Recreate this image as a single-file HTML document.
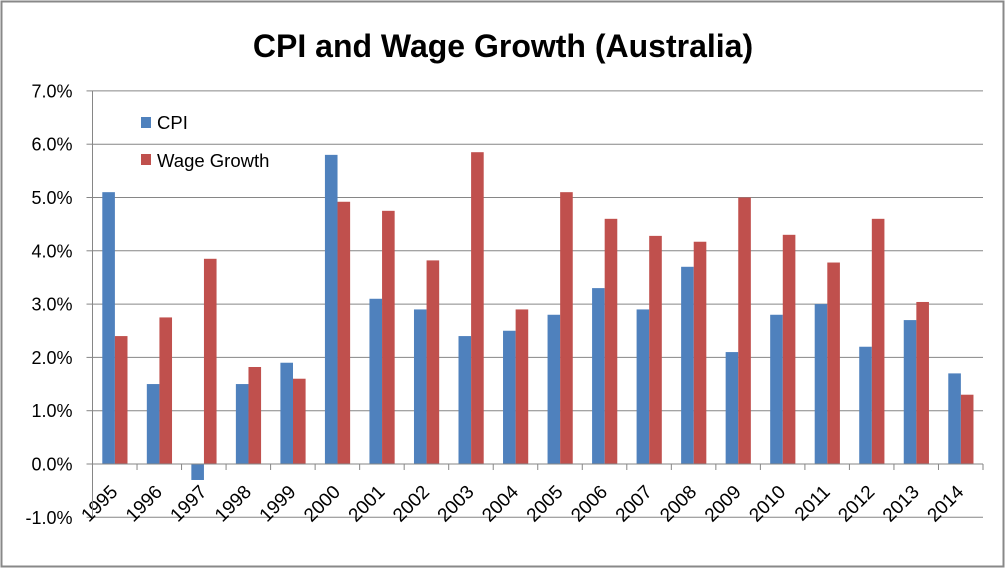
<!DOCTYPE html>
<html><head><meta charset="utf-8"><style>
html,body{margin:0;padding:0;background:#fff}
svg{display:block}
</style></head><body>
<svg id="c" width="1006" height="569" xmlns="http://www.w3.org/2000/svg" font-family="Liberation Sans, sans-serif">
<rect x="1.5" y="1.5" width="1002" height="565" fill="#fff" stroke="#888" stroke-width="2"/>
<text x="503" y="57" text-anchor="middle" font-size="32" font-weight="bold" fill="#000">CPI and Wage Growth (Australia)</text>
<g id="g"></g>
<rect x="141" y="117" width="10" height="11" fill="#4f81bd"/>
<text x="157" y="129" font-size="18.5">CPI</text>
<rect x="141" y="154" width="10" height="11" fill="#c0504d"/>
<text x="157" y="167" font-size="18.5">Wage Growth</text>
</svg>
<script>
var cpi=[5.1,1.5,-0.3,1.5,1.9,5.8,3.1,2.9,2.4,2.5,2.8,3.3,2.9,3.7,2.1,2.8,3.0,2.2,2.7,1.7];
var wg=[2.4,2.75,3.85,1.82,1.6,4.92,4.75,3.82,5.85,2.9,5.1,4.6,4.28,4.17,5.0,4.3,3.78,4.6,3.04,1.3];
var L=92.5,R=983,Z=464,U=53.3,W=(R-L)/20,s='';
function y(v){return Z-v*U;}
for(var k=-1;k<=7;k++){
 var yy=y(k);
 if(k!==0) s+='<line x1="'+L+'" x2="'+R+'" y1="'+yy+'" y2="'+yy+'" stroke="#868686" stroke-width="1"/>';
 s+='<line x1="'+(L-6)+'" x2="'+L+'" y1="'+yy+'" y2="'+yy+'" stroke="#868686"/>';
 s+='<text x="'+(L-20)+'" y="'+(yy+6.5)+'" text-anchor="end" font-size="18">'+k.toFixed(1)+'%</text>';
}
for(var i=0;i<20;i++){
 var x0=L+i*W;
 var v=cpi[i],a=y(Math.max(v,0)),b=y(Math.min(v,0));
 s+='<rect x="'+(x0+9.8)+'" y="'+a+'" width="12.6" height="'+(b-a)+'" fill="#4f81bd"/>';
 v=wg[i];a=y(v);
 s+='<rect x="'+(x0+22.4)+'" y="'+a+'" width="12.6" height="'+(Z-a)+'" fill="#c0504d"/>';
 s+='<line x1="'+(x0+W)+'" x2="'+(x0+W)+'" y1="'+Z+'" y2="'+(Z+6)+'" stroke="#868686"/>';
 var cx=x0+W/2+4,cy=493;
 s+='<text x="'+cx+'" y="'+cy+'" text-anchor="end" font-size="19" transform="rotate(-45 '+cx+' '+cy+')">'+(1995+i)+'</text>';
}
s+='<line x1="'+L+'" x2="'+R+'" y1="'+Z+'" y2="'+Z+'" stroke="#868686"/>';
s+='<line x1="'+L+'" x2="'+L+'" y1="'+y(7)+'" y2="'+y(-1)+'" stroke="#868686"/>';
document.getElementById('g').innerHTML=s;
</script>
</body></html>
